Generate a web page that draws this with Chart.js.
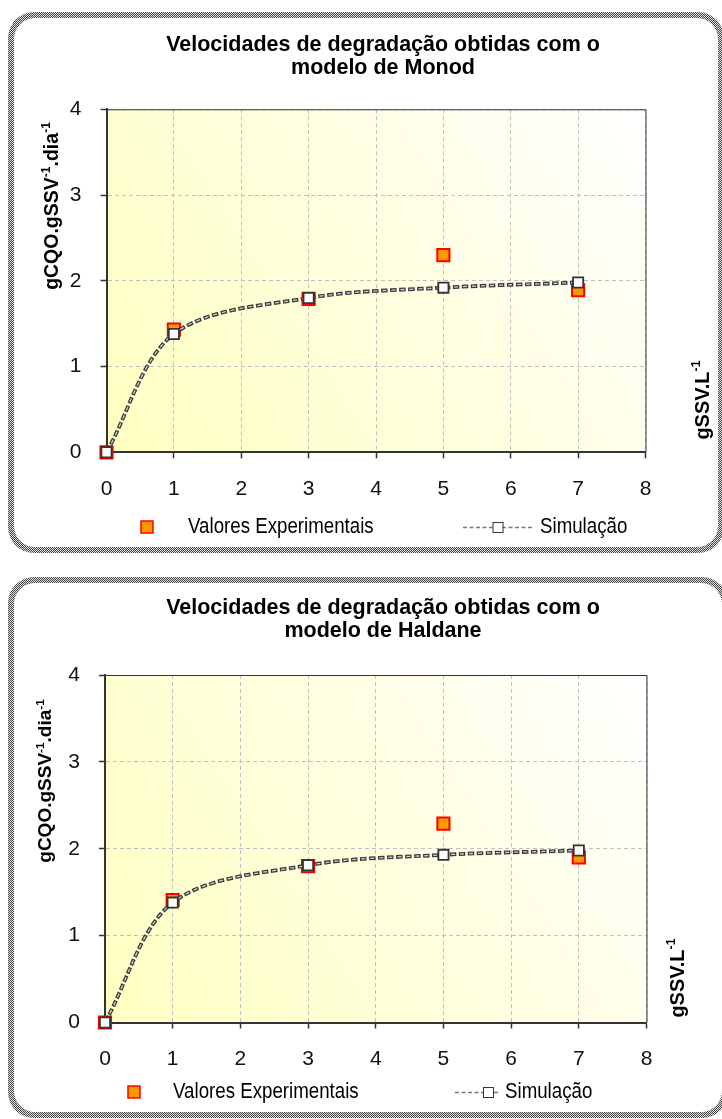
<!DOCTYPE html>
<html>
<head>
<meta charset="utf-8">
<script src="https://cdn.jsdelivr.net/npm/chart.js@4.4.1/dist/chart.umd.min.js"></script>
<style>
  html, body { margin: 0; padding: 0; background: #fff; }
  body { width: 722px; height: 1119px; position: relative; overflow: hidden; }
  .frame {
    position: absolute;
    border-radius: 26px;
    background: repeating-conic-gradient(#444 0 25%, #e2e2e2 0 50%) 0 0 / 2px 2px;
  }
  .frame .inner {
    position: absolute; left: 6px; top: 6px; right: 6px; bottom: 6px;
    border-radius: 21px; background: #fff;
  }
  canvas { position: absolute; left: 0; }
</style>
</head>
<body>
<div class="frame" style="left:8px;top:12px;width:716px;height:541px"><div class="inner"></div></div>
<div class="frame" style="left:8px;top:577px;width:720px;height:541px"><div class="inner"></div></div>
<canvas id="monod" width="722" height="560" style="top:0"></canvas>
<canvas id="haldane" width="722" height="559" style="top:560px"></canvas>
<script>
// x values (gSSV.L-1) and measured / simulated degradation rates
const concentracao = [0, 1, 3, 5, 7];
const monodExperimental = [0, 1.43, 1.79, 2.30, 1.89];
const monodSimulacao = [0, 1.38, 1.80, 1.92, 1.98];
const haldaneExperimental = [0, 1.41, 1.80, 2.29, 1.90];
const haldaneSimulacao = [0, 1.38, 1.81, 1.93, 1.98];
const xTicks = [0, 1, 2, 3, 4, 5, 6, 7, 8];
const yTicks = [0, 1, 2, 3, 4];

const SANS = '"Liberation Sans", Arial, sans-serif';
const DARK = '#333333';

function pairs(xs, ys) { return xs.map((x, i) => ({ x: x, y: ys[i] })); }

// draw a run of text pieces, some of them superscript, starting at x (baseline middle)
function drawRich(ctx, parts, x, y, size, weight) {
  let cx = x;
  parts.forEach(p => {
    const s = p.sup ? size * 0.62 : size;
    ctx.font = weight + ' ' + s + 'px ' + SANS;
    ctx.fillText(p.t, cx, p.sup ? y - size * 0.3 : y);
    cx += ctx.measureText(p.t).width;
  });
  return cx - x;
}
function richWidth(ctx, parts, size, weight) {
  let w = 0;
  parts.forEach(p => {
    const s = p.sup ? size * 0.62 : size;
    ctx.font = weight + ' ' + s + 'px ' + SANS;
    w += ctx.measureText(p.t).width;
  });
  return w;
}
function drawRotated(ctx, parts, cx, cy, size, weight) {
  ctx.save();
  ctx.translate(cx, cy);
  ctx.rotate(-Math.PI / 2);
  ctx.textBaseline = 'middle';
  ctx.textAlign = 'left';
  const w = richWidth(ctx, parts, size, weight);
  drawRich(ctx, parts, -w / 2, 0, size, weight);
  ctx.restore();
}
// tall, slightly condensed legend lettering
function drawNarrow(ctx, text, x, y, size, squeeze) {
  ctx.save();
  ctx.translate(x, y);
  ctx.scale(squeeze, 1);
  ctx.font = size + 'px ' + SANS;
  ctx.textAlign = 'left';
  ctx.textBaseline = 'middle';
  ctx.fillText(text, 0, 0);
  ctx.restore();
}

function makeChart(id, o) {
  const canvas = document.getElementById(id);
  const W = canvas.width, H = canvas.height;
  const yAxisW = 60, xAxisH = 50;

  const decor = {
    id: 'decor',
    beforeDraw(chart) {
      const a = chart.chartArea, ctx = chart.ctx;
      const g = ctx.createLinearGradient(a.left, a.bottom, a.right, a.top);
      g.addColorStop(0, '#ffffc2');
      g.addColorStop(0.55, '#ffffe2');
      g.addColorStop(1, '#ffffff');
      ctx.save();
      ctx.fillStyle = g;
      ctx.fillRect(a.left, a.top, a.right - a.left, a.bottom - a.top);
      ctx.restore();
    },
    afterDraw(chart) {
      const a = chart.chartArea, ctx = chart.ctx;
      ctx.save();
      // top and right frame of the plot
      ctx.strokeStyle = DARK;
      ctx.lineWidth = 1;
      ctx.beginPath();
      ctx.moveTo(a.left, a.top + 0.5);
      ctx.lineTo(a.right + 0.5, a.top + 0.5);
      ctx.lineTo(a.right + 0.5, a.bottom);
      ctx.stroke();

      ctx.fillStyle = '#000';
      // title
      ctx.textAlign = 'center';
      ctx.textBaseline = 'middle';
      ctx.font = 'bold ' + o.titleSize + 'px ' + SANS;
      o.title.forEach((line, i) => ctx.fillText(line, o.titleX, o.titleY + i * o.titleGap));

      // axis titles
      drawRotated(ctx, [{ t: 'gCQO.gSSV' }, { t: '-1', sup: true }, { t: '.dia' }, { t: '-1', sup: true }],
        o.yTitleX, o.yTitleY, o.yTitleSize, 'bold');
      drawRotated(ctx, [{ t: 'gSSV.L' }, { t: '-1', sup: true }],
        o.sideX, o.sideY, o.sideSize, 'bold');

      // legend
      const L = o.legend;
      ctx.fillStyle = '#ff9900';
      ctx.fillRect(L.expX - 6, L.y - 6, 12, 12);
      ctx.strokeStyle = '#ff0000';
      ctx.lineWidth = 1.5;
      ctx.strokeRect(L.expX - 6, L.y - 6, 12, 12);
      ctx.fillStyle = '#000';
      drawNarrow(ctx, 'Valores Experimentais', L.expText, L.y, 22, 0.85);

      ctx.strokeStyle = '#777';
      ctx.lineWidth = 1.5;
      ctx.setLineDash([4, 2.5]);
      ctx.beginPath();
      ctx.moveTo(L.lineX1, L.y + 0.5);
      ctx.lineTo(L.lineX2, L.y + 0.5);
      ctx.stroke();
      ctx.setLineDash([]);
      ctx.fillStyle = '#fff';
      ctx.fillRect(L.markX - 5, L.y - 5, 10, 10);
      ctx.strokeStyle = DARK;
      ctx.lineWidth = 1;
      ctx.strokeRect(L.markX - 5 + 0.5, L.y - 5 + 0.5, 10, 10);
      ctx.fillStyle = '#000';
      drawNarrow(ctx, 'Simulação', L.simText, L.y, 22, 0.85);
      ctx.restore();
    }
  };

  const sim = pairs(concentracao, o.simulacao);
  const exp = pairs(concentracao, o.experimental);
  const TENSION = 0.33;

  return new Chart(canvas, {
    type: 'scatter',
    data: {
      datasets: [
        { // simulation markers (top)
          data: sim, order: 0, showLine: false, clip: false,
          pointStyle: 'rect', pointRadius: 7.2, pointBorderWidth: 1.8,
          pointBackgroundColor: '#ffffff', pointBorderColor: DARK
        },
        { // light core of the dashed simulation curve
          data: sim, order: 1, showLine: true, pointRadius: 0, clip: false,
          borderColor: '#d0d0d0', borderWidth: 1.3, tension: TENSION,
          borderDash: [4, 5], borderDashOffset: -1.25
        },
        { // dark dashed simulation curve
          data: sim, order: 2, showLine: true, pointRadius: 0, clip: false,
          borderColor: '#3a3a3a', borderWidth: 3.8, tension: TENSION,
          borderDash: [6.5, 2.5]
        },
        { // experimental values
          data: exp, order: 3, showLine: false, clip: false,
          pointStyle: 'rect', pointRadius: 8.6, pointBorderWidth: 2,
          pointBackgroundColor: '#ff9900', pointBorderColor: '#ff0000'
        }
      ]
    },
    options: {
      responsive: false,
      animation: false,
      events: [],
      layout: {
        padding: {
          left: o.plot.left - yAxisW,
          right: W - o.plot.right,
          top: o.plot.top,
          bottom: H - o.plot.bottom - xAxisH
        }
      },
      plugins: { legend: { display: false }, tooltip: { enabled: false }, title: { display: false } },
      scales: {
        x: {
          type: 'linear', min: xTicks[0], max: xTicks[xTicks.length - 1],
          afterFit(s) { s.height = xAxisH; },
          afterBuildTicks(s) { s.ticks = xTicks.map(v => ({ value: v })); },
          ticks: { color: '#111', padding: 18, font: { family: SANS, size: 21 } },
          grid: { color: '#c0c0c0', lineWidth: 1, tickLength: 6, tickColor: DARK, tickWidth: 1.5, tickBorderDash: [] },
          border: { color: DARK, width: 2, dash: [4, 3] }
        },
        y: {
          type: 'linear', min: yTicks[0], max: yTicks[yTicks.length - 1],
          afterFit(s) { s.width = yAxisW; },
          afterBuildTicks(s) { s.ticks = yTicks.map(v => ({ value: v })); },
          ticks: { color: '#111', padding: 19, font: { family: SANS, size: 21 } },
          grid: { color: '#c0c0c0', lineWidth: 1, tickLength: 6, tickColor: DARK, tickWidth: 1.5, tickBorderDash: [] },
          border: { color: DARK, width: 2, dash: [4, 3] }
        }
      }
    },
    plugins: [decor]
  });
}

makeChart('monod', {
  experimental: monodExperimental,
  simulacao: monodSimulacao,
  plot: { left: 106.5, right: 645.5, top: 109.3, bottom: 452.3 },
  title: ['Velocidades de degradação obtidas com o', 'modelo de Monod'],
  titleX: 383, titleY: 45, titleGap: 23, titleSize: 21.5,
  yTitleX: 53, yTitleY: 206, yTitleSize: 19.5,
  sideX: 703, sideY: 400, sideSize: 20,
  legend: { y: 527, expX: 147, expText: 188, lineX1: 463, lineX2: 534, markX: 497.5, simText: 540 }
});

makeChart('haldane', {
  experimental: haldaneExperimental,
  simulacao: haldaneSimulacao,
  plot: { left: 105, right: 646.5, top: 115, bottom: 462.5 },
  title: ['Velocidades de degradação obtidas com o', 'modelo de Haldane'],
  titleX: 383, titleY: 48, titleGap: 23, titleSize: 21.5,
  yTitleX: 46, yTitleY: 221, yTitleSize: 19,
  sideX: 678, sideY: 418, sideSize: 20,
  legend: { y: 532, expX: 134, expText: 173, lineX1: 455, lineX2: 500, markX: 488, simText: 505 }
});
</script>
</body>
</html>
